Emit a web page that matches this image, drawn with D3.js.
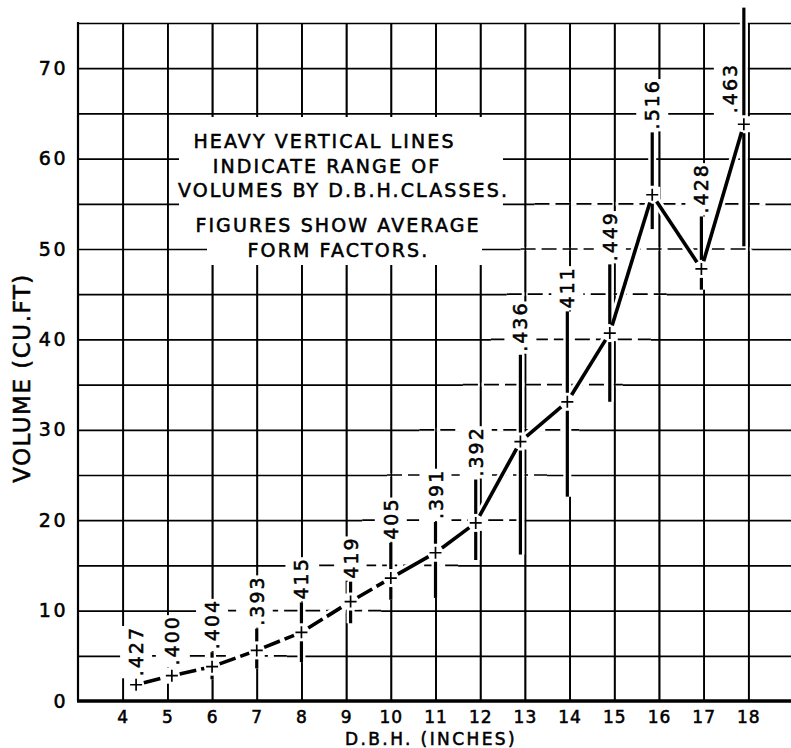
<!DOCTYPE html>
<html><head><meta charset="utf-8">
<script src="https://cdn.jsdelivr.net/npm/d3@7"></script>
<style>body{margin:0;background:#fff} svg{display:block} text{fill:#000;stroke:#000;stroke-width:0.55px}</style>
</head><body>
<svg id="c" width="791" height="748"></svg>
<script>
// ---- data ----
const dbhClass   = [4.3, 5.1, 6.0, 7.0, 8.0, 9.1, 10.0, 11.0, 11.9, 12.9, 13.95, 14.9, 15.85, 16.95, 17.9];
const meanVolume = [1.8, 2.8, 3.8, 5.6, 7.6, 11.0, 13.6, 16.4, 19.7, 28.7, 33.1, 40.7, 56.0, 47.8, 63.8];
const minVolume  = [1.4, 2.3, 2.4, 3.6, 4.3, 8.6, 11.2, 11.4, 15.6, 16.2, 22.6, 33.1, 52.2, 45.5, 50.3];
const maxVolume  = [2.4, 3.6, 5.4, 8.0, 10.9, 13.2, 17.5, 19.8, 24.5, 38.3, 43.1, 48.3, 62.9, 53.6, 76.7];
const formFactor = [".427", ".400", ".404", ".393", "415", "419", "405", ".391", ".392", ".436", "411", ".449", ".516", ".428", ".463"];
const xTicks = [4, 5, 6, 7, 8, 9, 10, 11, 12, 13, 14, 15, 16, 17, 18];
const yTicks = [0, 10, 20, 30, 40, 50, 60, 70];
const noteLines = ["HEAVY VERTICAL LINES", "INDICATE RANGE OF", "VOLUMES BY D.B.H.CLASSES.", "FIGURES SHOW AVERAGE", "FORM  FACTORS."];
const xTitle = "D.B.H.  (INCHES)";
const yTitle = "VOLUME (CU.FT)";

// ---- layout ----
const svg = d3.select("#c");
const FONT = "DejaVu Sans";
const L = 78, T = 23, B = 701, R = 791;
const x = d3.scaleLinear().domain([3, 19]).range([L, 793]);
const y = d3.scaleLinear().domain([0, 75]).range([B, T]);

// grid: vertical
const gv = svg.append("g").attr("transform", `translate(0,${B})`)
  .call(d3.axisBottom(x).tickValues(xTicks).tickSize(-(B - T)).tickFormat(""));
gv.select(".domain").remove();
gv.selectAll("line").attr("stroke", "#000").attr("stroke-width", 1.7);
// grid: horizontal
const hVals = d3.range(5, 80, 5);
const gh = svg.append("g").attr("transform", `translate(${L},0)`)
  .call(d3.axisLeft(y).tickValues(hVals).tickSize(-(R - L)).tickFormat(""));
gh.select(".domain").remove();
gh.selectAll("line").attr("stroke", "#000").attr("stroke-width", 1.7);

// horizontal grid lines look broken (dashed) where the mean curve crosses them
const dashG = svg.append("g");
hVals.filter(v => v <= 55).forEach(v => {
  const xs = [];
  for (let i = 0; i < dbhClass.length - 1; i++) {
    const a = meanVolume[i], b = meanVolume[i + 1];
    if ((a - v) * (b - v) <= 0 && a !== b) {
      const t = (v - a) / (b - a);
      xs.push(x(dbhClass[i] + t * (dbhClass[i + 1] - dbhClass[i])));
    }
  }
  if (!xs.length) return;
  const x0 = Math.max(L + 22, d3.min(xs) - 115), x1 = Math.min(R, d3.max(xs) + 45);
  dashG.append("rect").attr("x", x0).attr("y", y(v) - 2).attr("width", x1 - x0).attr("height", 4).attr("fill", "#fff");
  dashG.append("line").attr("x1", x0).attr("x2", x1).attr("y1", y(v)).attr("y2", y(v))
    .attr("stroke", "#000").attr("stroke-width", 1.7).attr("stroke-dasharray", "15 6");
});
// redraw vertical grid over the patches
const gv2 = svg.append("g").attr("transform", `translate(0,${B})`)
  .call(d3.axisBottom(x).tickValues(xTicks).tickSize(-(B - T)).tickFormat(""));
gv2.select(".domain").remove();
gv2.selectAll("line").attr("stroke", "#000").attr("stroke-width", 1.7);

// axis frame
svg.append("line").attr("x1", L).attr("x2", L).attr("y1", T - 1).attr("y2", B)
  .attr("stroke", "#000").attr("stroke-width", 2.2);
svg.append("line").attr("x1", L - 1).attr("x2", R).attr("y1", B).attr("y2", B)
  .attr("stroke", "#000").attr("stroke-width", 3.4);

// tick labels
const ax = svg.append("g").attr("transform", `translate(0,${B})`)
  .call(d3.axisBottom(x).tickValues(xTicks).tickSize(0).tickPadding(10));
ax.select(".domain").remove();
ax.selectAll("text").attr("font-family", FONT).attr("font-size", 17)
  .style("letter-spacing", "1px");
const ay = svg.append("g").attr("transform", `translate(${L},0)`)
  .call(d3.axisLeft(y).tickValues(yTicks).tickSize(0).tickPadding(10));
ay.select(".domain").remove();
ay.selectAll("text").attr("font-family", FONT).attr("font-size", 19)
  .style("letter-spacing", "2.5px");

// axis titles
svg.append("text").attr("x", 431).attr("y", 745).attr("text-anchor", "middle")
  .attr("font-family", FONT).attr("font-size", 17).style("letter-spacing", "2.4px")
  .text(xTitle);
svg.append("text").attr("transform", "translate(30,378) rotate(-90)").attr("text-anchor", "middle")
  .attr("font-family", FONT).attr("font-size", 23).style("letter-spacing", "1.5px")
  .text(yTitle);

// note box background
const wb = svg.append("g");
wb.append("rect").attr("x", 179).attr("y", 117).attr("width", 324).attr("height", 122).attr("fill", "#fff");
wb.append("rect").attr("x", 207).attr("y", 238).attr("width", 275).attr("height", 27).attr("fill", "#fff");

const noteX = [324.5, 327, 343.5, 338, 338.5];
const noteY = [148, 173, 197, 232, 257];
svg.append("g").selectAll("text").data(noteLines).join("text")
  .attr("x", (d, i) => noteX[i]).attr("y", (d, i) => noteY[i])
  .attr("text-anchor", "middle").attr("font-family", FONT).attr("font-size", 19)
  .style("letter-spacing", "2.1px").text(d => d);

// ---- marks ----
const pts = dbhClass.map((d, i) => ({
  dbh: d, mean: meanVolume[i], lo: minVolume[i], hi: maxVolume[i], ff: formFactor[i]
}));

// form factor labels (with white backing)
const CAP = 14;
const labG = svg.append("g");
pts.forEach(p => {
  const lineX = x(p.dbh);
  let lx, ly;
  if (p.hi > y.domain()[1]) {       // range runs off the top: label beside the line
    lx = lineX - 14 + CAP / 2;
    ly = y(p.mean) - 11;
  } else {
    lx = lineX + CAP / 2;
    ly = y(p.hi) - 3;
  }
  const g = labG.append("g").attr("transform", `translate(${lx},${ly}) rotate(-90)`);
  const t = g.append("text").attr("font-family", FONT).attr("font-size", 19)
    .style("letter-spacing", "2px").text(p.ff);
  const bb = t.node().getBBox();
  g.insert("rect", "text").attr("x", bb.x - 2).attr("y", bb.y - 5)
    .attr("width", bb.width + 2).attr("height", bb.height + 10).attr("fill", "#fff");
});

// halos
const halo = svg.append("g");
pts.forEach(p => {
  halo.append("line").attr("x1", x(p.dbh)).attr("x2", x(p.dbh))
    .attr("y1", y(p.lo)).attr("y2", y(p.hi)).attr("stroke", "#fff").attr("stroke-width", 8);
});
const GAP = 8;
const segs = [];
for (let i = 0; i < pts.length - 1; i++) {
  const x0 = x(pts[i].dbh), y0 = y(pts[i].mean), x1 = x(pts[i + 1].dbh), y1 = y(pts[i + 1].mean);
  const len = Math.hypot(x1 - x0, y1 - y0), ux = (x1 - x0) / len, uy = (y1 - y0) / len;
  segs.push({ x0: x0 + ux * GAP, y0: y0 + uy * GAP, x1: x1 - ux * GAP, y1: y1 - uy * GAP,
              dashed: pts[i + 1].dbh <= 10.05 });
}
segs.forEach(s => {
  halo.append("line").attr("x1", s.x0).attr("y1", s.y0).attr("x2", s.x1).attr("y2", s.y1)
    .attr("stroke", "#fff").attr("stroke-width", 9);
});
pts.forEach(p => {
  halo.append("rect").attr("x", x(p.dbh) - 8).attr("y", y(p.mean) - 8)
    .attr("width", 16).attr("height", 16).attr("fill", "#fff");
});
labG.raise();

// range lines
const rg = svg.append("g");
pts.forEach(p => {
  const cx = x(p.dbh), cy = y(p.mean);
  const top = y(p.hi), bot = y(p.lo);
  if (top < cy - 9) rg.append("line").attr("x1", cx).attr("x2", cx).attr("y1", top).attr("y2", cy - 9)
    .attr("stroke", "#000").attr("stroke-width", 3.2);
  if (bot > cy + 9) rg.append("line").attr("x1", cx).attr("x2", cx).attr("y1", cy + 9).attr("y2", bot)
    .attr("stroke", "#000").attr("stroke-width", 3.2);
});

// mean curve
segs.forEach(s => {
  svg.append("line").attr("x1", s.x0).attr("y1", s.y0).attr("x2", s.x1).attr("y2", s.y1)
    .attr("stroke", "#000").attr("stroke-width", 3.6)
    .attr("stroke-dasharray", s.dashed ? "17 5" : null);
});

// cross markers
const cg = svg.append("g");
pts.forEach(p => {
  const cx = x(p.dbh), cy = y(p.mean), a = 6;
  cg.append("path").attr("d", `M${cx - a},${cy}H${cx + a}M${cx},${cy - a}V${cy + a}`)
    .attr("stroke", "#000").attr("stroke-width", 1.7).attr("fill", "none");
});
</script>
</body></html>
